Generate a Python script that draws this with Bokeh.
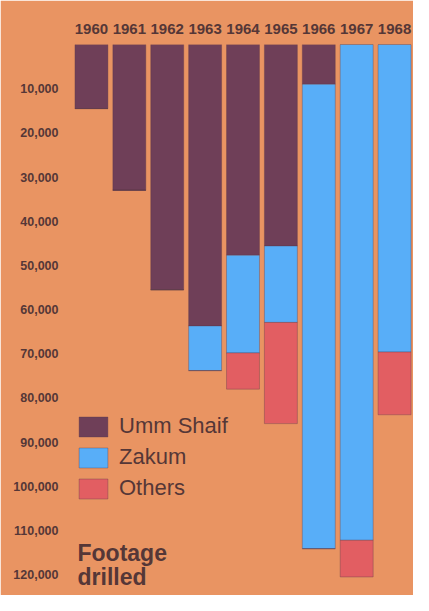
from bokeh.plotting import figure
from bokeh.models import (FactorRange, Range1d, FixedTicker, NumeralTickFormatter,
                          Legend, LegendItem, Label, CategoricalAxis, LinearAxis)
from bokeh.embed import file_html
from bokeh.resources import INLINE

years = ["1960", "1961", "1962", "1963", "1964", "1965", "1966", "1967", "1968"]
umm_shaif = [14500, 33000, 55500, 63700, 47700, 45600, 9000, 0, 0]
zakum = [0, 0, 0, 10100, 22100, 17300, 105100, 112200, 69600]
others = [0, 0, 0, 0, 8200, 22900, 0, 8300, 14200]
tick_values = [10000, 20000, 30000, 40000, 50000, 60000, 70000, 80000, 90000,
               100000, 110000, 120000]

BG = "#E99462"
PURPLE = "#6F3F58"
BLUE = "#58AEF8"
RED = "#E25E62"
TEXT = "#553737"
FONT = "Liberation Sans"

p = figure(width=413, height=595, output_backend="svg", toolbar_location=None,
           x_range=FactorRange(*years, range_padding=0),
           y_range=Range1d(124700, 0),
           x_axis_location=None, y_axis_location=None,
           min_border_left=72, min_border_right=0, min_border_top=44,
           min_border_bottom=0)
p.background_fill_color = BG
p.border_fill_color = BG
p.outline_line_color = BG
p.outline_line_width = 2
p.xgrid.visible = False
p.ygrid.visible = False

src = dict(years=years, umm=umm_shaif, zakum=zakum, others=others)
rs = p.vbar_stack(["umm", "zakum", "others"], x="years", width=0.87,
                  color=[PURPLE, BLUE, RED], source=src,
                  line_color="#5a3a4a", line_alpha=0.35, line_width=1)

# top axis with years
xa = CategoricalAxis()
xa.axis_line_color = None
xa.major_tick_line_color = None
xa.minor_tick_line_color = None
xa.major_label_text_font = FONT
xa.major_label_text_font_style = "bold"
xa.major_label_text_font_size = "15px"
xa.major_label_text_color = TEXT
xa.major_label_standoff = 5
p.add_layout(xa, "above")

# left axis with footage
ya = LinearAxis(ticker=FixedTicker(ticks=tick_values),
                formatter=NumeralTickFormatter(format="0,0"))
ya.axis_line_color = None
ya.major_tick_line_color = None
ya.minor_tick_line_color = None
ya.major_label_text_font = FONT
ya.major_label_text_font_style = "bold"
ya.major_label_text_font_size = "12.5px"
ya.major_label_text_color = TEXT
ya.major_label_standoff = 8
p.add_layout(ya, "left")

legend = Legend(items=[LegendItem(label="Umm Shaif", renderers=[rs[0]]),
                       LegendItem(label="Zakum", renderers=[rs[1]]),
                       LegendItem(label="Others", renderers=[rs[2]])],
                location=(3, 94), orientation="vertical")
legend.glyph_width = 36
legend.glyph_height = 25
legend.label_height = 25
legend.spacing = 5
legend.label_standoff = 8
legend.padding = 0
legend.margin = 0
legend.border_line_color = None
legend.background_fill_alpha = 0
legend.label_text_font = FONT
legend.label_text_font_size = "22px"
legend.label_text_color = TEXT
legend.label_text_baseline = "middle"
p.add_layout(legend, "center")

for txt, yy in [("Footage", 43), ("drilled", 19)]:
    p.add_layout(Label(x=5, y=yy, x_units="screen", y_units="screen", text=txt,
                       text_font=FONT, text_font_style="bold",
                       text_font_size="23px", text_color=TEXT,
                       text_baseline="alphabetic"))

open("out.html", "w").write(file_html(p, INLINE))
